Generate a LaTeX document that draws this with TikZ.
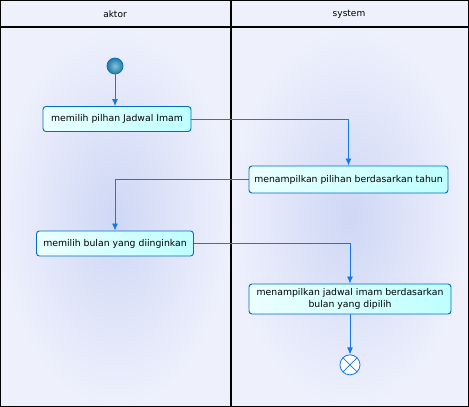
\documentclass[tikz,border=0pt]{standalone}
\usepackage{fontspec}
\setmainfont{DejaVu Sans}
\usetikzlibrary{positioning,arrows.meta}

\definecolor{lanebg}{RGB}{238,240,252}
\definecolor{lanemid}{RGB}{206,215,245}
\definecolor{flowblue}{RGB}{20,120,235}
\definecolor{boxline}{RGB}{0,110,190}
\definecolor{boxcyan}{RGB}{190,255,255}
\definecolor{dotlight}{RGB}{130,195,220}
\definecolor{dotdark}{RGB}{35,120,165}

\tikzset{
    action/.style={draw=boxline, rounded corners=3pt, line width=0.9pt,
      left color=white!70!boxcyan, right color=boxcyan, align=center, inner sep=2pt,
      font=\fontsize{9.3}{12}\selectfont},
    flow/.style={draw=flowblue, line width=0.9pt, -{Latex[length=7pt,width=6pt]}},
    startdot/.style={circle, draw=boxline, line width=0.7pt, inner color=dotlight,
      outer color=dotdark, minimum size=16pt, inner sep=0pt},
    enddot/.style={circle, draw=flowblue, fill=white, line width=0.8pt,
      minimum size=20pt, inner sep=0pt,
      path picture={\draw[flowblue, line width=0.8pt]
        (path picture bounding box.south west) -- (path picture bounding box.north east)
        (path picture bounding box.north west) -- (path picture bounding box.south east);}},
    lanetitle/.style={font=\fontsize{9}{10}\selectfont}
}

\begin{document}
\begin{tikzpicture}[x=1pt,y=1pt]
    \useasboundingbox (0,0) rectangle (469,407);

    % swimlanes
    \fill[lanebg] (0,380) rectangle (469,407);
    \shade[inner color=lanemid, outer color=lanebg] (0,0) rectangle (231,380);
    \shade[inner color=lanemid, outer color=lanebg] (231,0) rectangle (469,380);
    \draw[line width=1.1pt] (0.5,0.5) rectangle (468.5,406.5);
    \draw[line width=1.1pt] (0.5,380) -- (468.5,380);
    \draw[line width=1.1pt] (231,0.5) -- (231,406.5);
    \node[lanetitle] (aktor) at (115,393) {aktor};
    \node[lanetitle] (system) at (349,393) {system};

    % activities
    \node[startdot] (start) at (115,341) {};
    \node[action, minimum width=148pt, minimum height=25pt] (pilih) at (117,288) {memilih pilhan Jadwal Imam};
    \node[action, minimum width=199pt, minimum height=27pt] (tahun) at (348.5,227.5) {menampilkan pilihan berdasarkan tahun};
    \node[action, minimum width=157pt, minimum height=25pt] (bulan) at (115,163.5) {memilih bulan yang diinginkan};
    \node[action, minimum width=202pt, minimum height=30pt] (jadwal) at (350,108) {menampilkan jadwal imam berdasarkan\\bulan yang dipilih};
    \node[enddot, below=40pt of jadwal] (end) {};

    \draw[flow] (start) -- (start |- pilih.north);
    \draw[flow] (pilih.east) -| (tahun.north);
    \draw[flow] (tahun.west) -| (bulan.north);
    \draw[flow] (bulan.east) -| (jadwal.north);
    \draw[flow] (jadwal) -- (end);
\end{tikzpicture}
\end{document}
